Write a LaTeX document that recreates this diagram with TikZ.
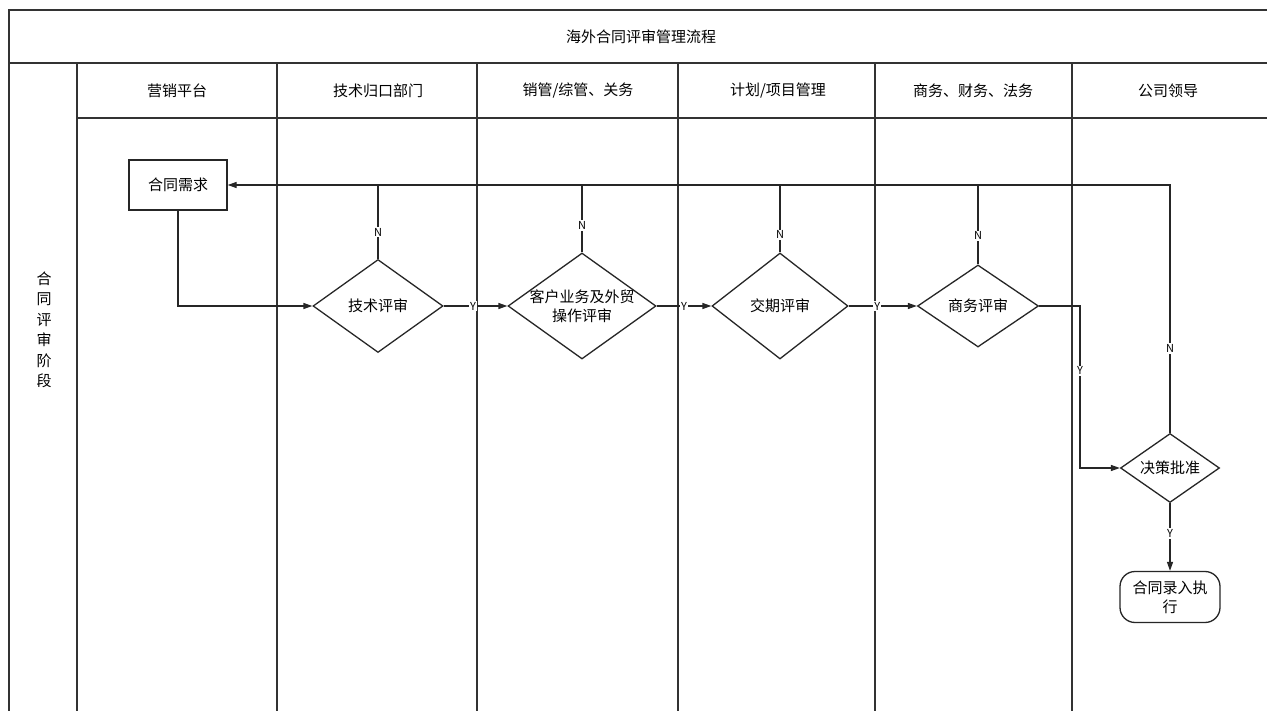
\documentclass[tikz,border=0pt]{standalone}
\usepackage{fontspec}
\setmainfont{Noto Sans CJK SC}
\usetikzlibrary{shapes.geometric,arrows.meta}
\begin{document}
\begin{tikzpicture}[x=1pt,y=-1pt,
  frame/.style={line width=1.6pt,draw=black!80},
  lane/.style={line width=1.3pt,draw=black!80},
  txt/.style={font=\fontsize{15}{19}\selectfont,text=black},
  hdr/.style={txt,inner sep=0pt},
  box/.style={draw=black!85,line width=1.3pt,minimum width=98pt,minimum height=50pt,inner sep=0pt,txt},
  dia/.style={diamond,draw=black!85,line width=1.3pt,inner sep=0pt},
  term/.style={draw=black!85,line width=1.3pt,rounded corners=15pt,minimum width=100pt,minimum height=51pt,inner sep=0pt,txt,align=center},
  conn/.style={line width=1.3pt,draw=black!85},
  arr/.style={conn,-{Triangle[length=9pt,width=6pt]}},
  yn/.style={font=\fontsize{11}{12}\selectfont,fill=white,inner sep=1.2pt,text=black}
]
\useasboundingbox (0,0) rectangle (1267,711);
\fill[white] (0,0) rectangle (1267,711);
% table frame
\draw[frame] (1267,10) -- (9,10) -- (9,711);
\draw[frame] (9,63) -- (1267,63);
\draw[lane] (77,63) -- (77,711);
\draw[lane] (77,118) -- (1267,118);
\foreach \x in {277,477,678,875,1072} \draw[lane] (\x,63) -- (\x,711);
% texts
\node[hdr] (title) at (641,37) {海外合同评审管理流程};
\node[hdr] (h1) at (177,91) {营销平台};
\node[hdr] (h2) at (378,91) {技术归口部门};
\node[hdr] (h3) at (578,91) {销管/综管、关务};
\node[hdr] (h4) at (778,91) {计划/项目管理};
\node[hdr] (h5) at (973,91) {商务、财务、法务};
\node[hdr] (h6) at (1168,91) {公司领导};
\node[hdr,align=center,font=\fontsize{15}{20.5}\selectfont] (stage) at (44,330) {合\\同\\评\\审\\阶\\段};
% flow nodes
\node[box] (req) at (178,185) {合同需求};
\node[dia,minimum width=130pt,minimum height=93pt,label={[txt]center:技术评审}] (d1) at (378,306) {};
\node[dia,minimum width=148pt,minimum height=106pt,label={[txt,align=center]center:{客户业务及外贸\\操作评审}}] (d2) at (582,306) {};
\node[dia,minimum width=136pt,minimum height=106pt,label={[txt]center:交期评审}] (d3) at (780,306) {};
\node[dia,minimum width=121pt,minimum height=82pt,label={[txt]center:商务评审}] (d4) at (978,306) {};
\node[dia,minimum width=99pt,minimum height=69pt,label={[txt]center:决策批准}] (d5) at (1170,468) {};
\node[term] (exec) at (1170,597) {合同录入执\\行};
\coordinate (turn) at (1080,306);
% connectors
\draw[arr] (req.south) |- (d1.west);
\draw[arr] (d1.east) -- node[yn,pos=0.46] {Y} (d2.west);
\draw[arr] (d2.east) -- node[yn,pos=0.5] {Y} (d3.west);
\draw[arr] (d3.east) -- node[yn,pos=0.42] {Y} (d4.west);
\draw[arr] (d4.east) -- (turn) -- node[yn,pos=0.4] {Y} (turn |- d5.west) -- (d5.west);
\draw[arr] (d5.south) -- node[yn,pos=0.45] {Y} (exec.north);
\draw[arr] (d5.north) -- node[yn,pos=0.34] {N} (d5.north |- req.east) -- (req.east);
\draw[conn] (d1.north) -- node[yn,pos=0.36] {N} (d1.north |- req.east);
\draw[conn] (d2.north) -- node[yn,pos=0.4] {N} (d2.north |- req.east);
\draw[conn] (d3.north) -- node[yn,pos=0.26] {N} (d3.north |- req.east);
\draw[conn] (d4.north) -- node[yn,pos=0.36] {N} (d4.north |- req.east);
\end{tikzpicture}
\end{document}
